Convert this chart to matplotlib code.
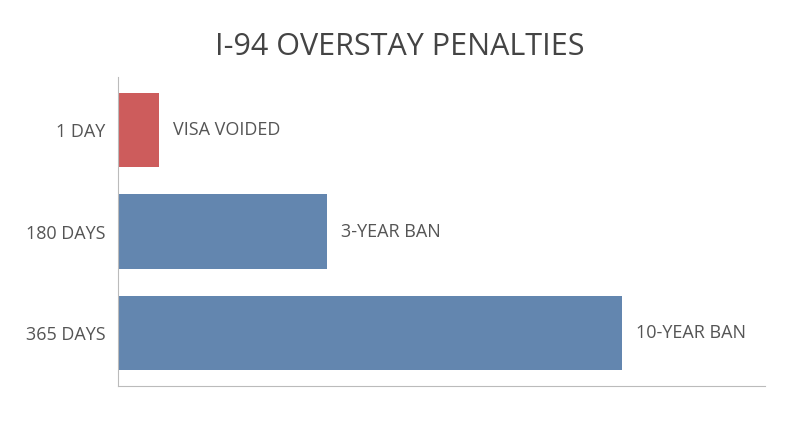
import matplotlib
matplotlib.use("Agg")
import matplotlib.pyplot as plt

categories = ["1 DAY", "180 DAYS", "365 DAYS"]
values = [30, 151, 365]
labels = ["VISA VOIDED", "3-YEAR BAN", "10-YEAR BAN"]
colors = ["#CD5C5C", "#6386AF", "#6386AF"]

plt.rcParams['font.family'] = ['Open Sans', 'DejaVu Sans']
fig = plt.figure(figsize=(8, 4.47), dpi=100)
ax = fig.add_axes([0.1475, 0.136, 0.8085, 0.692])
y = list(range(len(categories)))
ax.barh(y, values, height=0.73, color=colors)
for yi, v, l in zip(y, values, labels):
    ax.text(v + 10, yi, l, va='center', ha='left', fontsize=13, color='#555555')
ax.set_xlim(0, 468)
ax.set_ylim(2.52, -0.52)
ax.set_yticks(y)
ax.set_yticklabels(categories, fontsize=13, color='#555555')
ax.set_xticks([])
ax.tick_params(axis='y', length=0, pad=9)
for s in ['top', 'right']:
    ax.spines[s].set_visible(False)
for s in ['left', 'bottom']:
    ax.spines[s].set_color('#BBBBBB')
fig.text(0.5, 0.895, "I-94 OVERSTAY PENALTIES", ha='center', va='center', fontsize=22, color='#444444')
fig.savefig("out.png", dpi=100, facecolor='white')
